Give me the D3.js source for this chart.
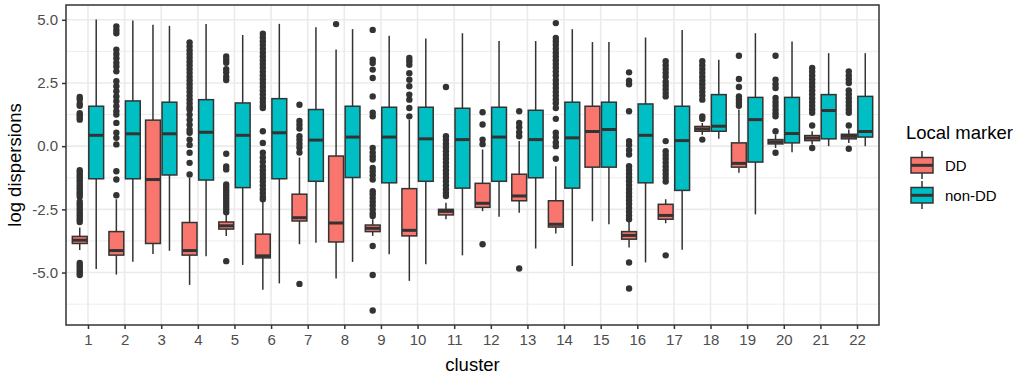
<!DOCTYPE html>
<html>
<head>
<meta charset="utf-8">
<script src="https://cdn.jsdelivr.net/npm/d3@7"></script>
<style>
  body { margin: 0; background: #fff; }
  svg { display: block; }
  text { font-family: "Liberation Sans", Arial, sans-serif; }
</style>
</head>
<body>
<svg id="chart" width="1021" height="379"></svg>
<script>
// ---- data ---------------------------------------------------------------
const clusters = ["1","2","3","4","5","6","7","8","9","10","11","12","13","14","15","16","17","18","19","20","21","22"];
const groups = ["DD", "non-DD"];
const groupColors = ["#F8766D", "#00BFC4"];

// DD: lower whisker, Q1, median, Q3, upper whisker per cluster
const ddLow = [-4.11,-5.08,-4.27,-5.49,-3.55,-5.68,-3.88,-5.24,-3.55,-5.33,-2.89,-2.57,-2.63,-3.46,-2.97,-4.01,-3.05,0.45,-1.05,-0.07,0.07,0.13];
const ddQ1  = [-3.85,-4.31,-3.85,-4.31,-3.28,-4.42,-2.96,-3.79,-3.38,-3.55,-2.72,-2.42,-2.16,-3.20,-0.83,-3.68,-2.89,0.59,-0.83,0.09,0.22,0.29];
const ddMed = [-3.72,-4.13,-1.32,-4.13,-3.15,-4.34,-2.83,-3.04,-3.25,-3.33,-2.58,-2.26,-1.97,-3.09,0.58,-3.53,-2.74,0.68,-0.68,0.17,0.32,0.39];
const ddQ3  = [-3.57,-3.38,1.03,-3.02,-3.00,-3.48,-1.90,-0.39,-3.12,-1.68,-2.50,-1.47,-1.11,-2.16,1.58,-3.38,-2.30,0.78,0.13,0.26,0.42,0.47];
const ddHigh= [-3.22,-2.10,4.80,-1.25,-2.69,-2.17,-0.45,3.82,-2.89,1.05,-2.24,-0.13,0.20,-0.79,4.12,-2.96,-2.10,0.92,1.45,0.46,0.59,0.66];

// non-DD: lower whisker, Q1, median, Q3, upper whisker per cluster
const ndLow = [-4.86,-4.57,-4.14,-4.36,-4.70,-5.43,-3.82,-4.58,-4.28,-4.67,-4.32,-2.79,-4.05,-4.74,-3.09,-4.60,-4.10,0.29,-2.70,-0.24,0.00,0.00];
const ndQ1  = [-1.29,-1.29,-1.14,-1.34,-1.64,-1.29,-1.39,-1.24,-1.45,-1.39,-1.66,-1.39,-1.25,-1.66,-0.83,-1.45,-1.75,0.59,-0.63,0.13,0.29,0.36];
const ndMed = [0.43,0.49,0.49,0.55,0.43,0.53,0.24,0.36,0.36,0.29,0.26,0.36,0.26,0.33,0.66,0.43,0.22,0.79,1.05,0.50,1.41,0.58];
const ndQ3  = [1.58,1.79,1.74,1.84,1.71,1.88,1.45,1.58,1.54,1.54,1.50,1.54,1.42,1.74,1.74,1.67,1.58,2.04,1.93,1.93,2.04,1.97];
const ndHigh= [5.01,4.97,4.76,4.83,4.40,4.84,4.71,4.63,4.37,4.26,4.47,4.16,4.16,4.63,4.12,4.30,4.60,3.42,4.47,4.14,3.68,3.68];

// outlying log dispersions of DD markers, one list per cluster
const ddOutliers = [
  [1.95,1.85,1.68,1.60,1.30,1.22,1.12,1.05,-0.95,-1.05,-1.15,-1.25,-1.35,-1.45,-1.55,-1.65,-1.72,-1.82,-1.90,-2.00,-2.20,-2.30,-2.40,-2.50,-2.60,-2.70,-2.80,-2.90,-3.00,-4.62,-4.72,-4.82,-4.92,-5.02,-5.10],
  [4.74,4.60,4.47,3.82,3.65,3.48,3.30,3.15,2.96,2.57,2.37,2.17,1.97,1.78,1.58,1.38,1.25,0.92,0.53,0.33,0.07,-0.99,-1.32,-1.94],
  [],
  [4.10,3.95,3.80,3.65,3.50,3.35,3.20,3.05,2.90,2.75,2.60,2.45,2.30,2.15,2.00,1.85,1.70,1.55,1.45,1.25,1.05,0.85,0.65,0.53,0.26,0.05,-0.26,-0.66,-1.12],
  [3.55,3.42,3.30,3.05,2.92,2.75,2.62,-0.30,-0.80,-0.92,-1.51,-1.62,-1.73,-1.84,-1.95,-2.06,-2.17,-2.28,-2.39,-2.50,-2.61,-4.55],
  [4.45,4.30,4.15,4.00,3.85,3.70,3.55,3.40,3.25,3.10,2.95,2.80,2.65,2.50,2.35,2.20,2.05,1.90,1.75,1.60,1.51,0.59,0.13,-0.26,-0.45,-0.62,-0.80,-0.95,-1.10,-1.25,-1.40,-1.55,-1.70,-1.85,-2.00,-2.10],
  [1.64,1.00,0.85,0.70,0.39,0.25,0.10,-0.05,-0.25,-5.45],
  [4.83],
  [4.60,3.42,3.29,3.03,2.70,1.97,1.32,1.18,-0.07,-0.25,-0.40,-0.53,-0.86,-1.00,-1.15,-1.32,-1.78,-1.90,-2.05,-2.20,-2.35,-2.50,-2.65,-2.76,-3.95,-5.10,-6.50],
  [3.49,3.36,3.22,2.89,2.63,2.37,2.04,1.84,1.51,1.18],
  [2.34,0.39,0.25,0.10,-0.05,-0.20,-0.35,-0.50,-0.65,-0.80,-0.95,-1.10,-1.25,-1.40,-1.55,-1.70,-1.85,-1.97],
  [1.34,0.86,0.26,0.08,-3.88],
  [1.38,0.92,0.75,0.55,0.39,-4.84],
  [4.87,4.28,4.14,4.00,3.85,3.70,3.55,3.40,3.25,3.10,2.95,2.80,2.62,2.46,2.30,2.15,2.00,1.85,1.70,1.51,1.08,0.53,0.35,0.15,0.00,-0.50],
  [],
  [2.92,2.59,2.45,1.38,0.20,0.05,-0.15,-0.33,-0.79,-0.94,-1.09,-1.24,-1.39,-1.54,-1.69,-1.84,-1.99,-2.14,-2.29,-2.44,-2.59,-2.74,-2.89,-4.60,-5.63],
  [3.36,3.20,3.05,2.90,2.75,2.55,2.40,2.25,2.10,1.97,0.20,-0.20,-0.35,-0.50,-0.65,-0.80,-0.95,-1.10,-1.25,-1.40,-4.32],
  [3.36,3.20,3.05,2.90,2.75,2.60,2.45,2.30,2.15,2.00,1.84,1.18,1.08,0.26],
  [3.58,2.66,2.34,1.97,1.85,1.72,1.60],
  [3.58,2.63,2.45,2.30,1.91,1.75,1.60,1.45,1.30,1.18,0.59,-0.26],
  [3.09,2.95,2.80,2.65,2.50,2.35,2.20,2.05,1.90,1.75,1.60,1.45,1.32,0.82,-0.07],
  [2.96,2.80,2.65,2.50,2.20,2.05,1.90,1.75,1.60,1.45,1.32,0.82,-0.10]
];
// non-DD markers have no outlying values
const ndOutliers = clusters.map(() => []);

const yTicks = [-5, -2.5, 0, 2.5, 5];
const yMinorTicks = [-6.25, -3.75, -1.25, 1.25, 3.75];

// ---- layout -------------------------------------------------------------
const panel = { left: 66, right: 879, top: 5, bottom: 325 };
const svg = d3.select("#chart");
svg.append("rect").attr("width", 1021).attr("height", 379).attr("fill", "#fff");

const x = d3.scalePoint().domain(clusters).range([panel.left, panel.right]).padding(0.6);
const step = x.step();

const stats = [
  { low: ddLow, q1: ddQ1, med: ddMed, q3: ddQ3, high: ddHigh, out: ddOutliers },
  { low: ndLow, q1: ndQ1, med: ndMed, q3: ndQ3, high: ndHigh, out: ndOutliers }
];

// flatten into one record per box
const boxes = [];
clusters.forEach((c, i) => {
  groups.forEach((g, gi) => {
    const s = stats[gi];
    boxes.push({ cluster: c, group: g, gi,
      low: s.low[i], q1: s.q1[i], med: s.med[i], q3: s.q3[i], high: s.high[i], out: s.out[i] });
  });
});

const allVals = boxes.flatMap(b => [b.low, b.high, ...b.out]);
const [vmin, vmax] = d3.extent(allVals);
const pad = (vmax - vmin) * 0.05;
const y = d3.scaleLinear().domain([vmin - pad, vmax + pad]).range([panel.bottom, panel.top]);

// dodge: two boxes per cluster
const dodge = d3.scaleBand().domain(groups).range([-0.45 * step, 0.45 * step]);
const boxW = dodge.bandwidth() * 0.9;
const cx = b => x(b.cluster) + dodge(b.group) + dodge.bandwidth() / 2;

// ---- grid ---------------------------------------------------------------
const grid = svg.append("g");
grid.selectAll("line.minor").data(yMinorTicks).join("line")
  .attr("x1", panel.left).attr("x2", panel.right)
  .attr("y1", d => y(d)).attr("y2", d => y(d))
  .attr("stroke", "#EBEBEB").attr("stroke-width", 0.9);
grid.selectAll("line.majy").data(yTicks).join("line")
  .attr("x1", panel.left).attr("x2", panel.right)
  .attr("y1", d => y(d)).attr("y2", d => y(d))
  .attr("stroke", "#EBEBEB").attr("stroke-width", 1.6);
grid.selectAll("line.majx").data(clusters).join("line")
  .attr("y1", panel.top).attr("y2", panel.bottom)
  .attr("x1", d => x(d)).attr("x2", d => x(d))
  .attr("stroke", "#EBEBEB").attr("stroke-width", 1.6);

// ---- boxes --------------------------------------------------------------
const ink = "#333333";
const g = svg.append("g");
const bx = g.selectAll("g.box").data(boxes).join("g");

bx.selectAll("circle").data(b => b.out.map(v => ({ v, b }))).join("circle")
  .attr("cx", d => cx(d.b)).attr("cy", d => y(d.v)).attr("r", 3.2)
  .attr("fill", ink);

bx.append("line")
  .attr("x1", cx).attr("x2", cx)
  .attr("y1", b => y(b.high)).attr("y2", b => y(b.q3))
  .attr("stroke", ink).attr("stroke-width", 1.5);
bx.append("line")
  .attr("x1", cx).attr("x2", cx)
  .attr("y1", b => y(b.q1)).attr("y2", b => y(b.low))
  .attr("stroke", ink).attr("stroke-width", 1.5);
bx.append("rect")
  .attr("x", b => cx(b) - boxW / 2).attr("width", boxW)
  .attr("y", b => y(b.q3)).attr("height", b => Math.max(0, y(b.q1) - y(b.q3)))
  .attr("fill", b => groupColors[b.gi])
  .attr("stroke", ink).attr("stroke-width", 1.5);
bx.append("line")
  .attr("x1", b => cx(b) - boxW / 2).attr("x2", b => cx(b) + boxW / 2)
  .attr("y1", b => y(b.med)).attr("y2", b => y(b.med))
  .attr("stroke", ink).attr("stroke-width", 3);

// ---- panel border -------------------------------------------------------
svg.append("rect")
  .attr("x", panel.left).attr("y", panel.top)
  .attr("width", panel.right - panel.left).attr("height", panel.bottom - panel.top)
  .attr("fill", "none").attr("stroke", ink).attr("stroke-width", 1.5);

// ---- axes ---------------------------------------------------------------
const xAxis = svg.append("g").attr("transform", `translate(0,${panel.bottom})`)
  .call(d3.axisBottom(x).tickSize(4).tickPadding(5));
const yAxis = svg.append("g").attr("transform", `translate(${panel.left},0)`)
  .call(d3.axisLeft(y).tickValues(yTicks).tickFormat(d => d.toFixed(1)).tickSize(4).tickPadding(4));
[xAxis, yAxis].forEach(a => {
  a.select(".domain").remove();
  a.selectAll(".tick line").attr("stroke", ink).attr("stroke-width", 1.5);
  a.selectAll(".tick text").attr("fill", "#4D4D4D").style("font-size", "15px")
    .style("font-family", "'Liberation Sans', Arial, sans-serif");
});

svg.append("text")
  .attr("x", (panel.left + panel.right) / 2).attr("y", 371)
  .attr("text-anchor", "middle").attr("fill", "#000")
  .style("font-size", "18.5px").text("cluster");
svg.append("text")
  .attr("transform", `translate(21,${(panel.top + panel.bottom) / 2}) rotate(-90)`)
  .attr("text-anchor", "middle").attr("fill", "#000")
  .style("font-size", "18.5px").text("log dispersions");

// ---- legend -------------------------------------------------------------
const legend = svg.append("g");
legend.append("text").attr("x", 906).attr("y", 139)
  .attr("fill", "#000").style("font-size", "18.5px").text("Local marker");
const keyTop = [151, 181];
groups.forEach((gname, i) => {
  const k = legend.append("g").attr("transform", `translate(911,${keyTop[i]})`);
  k.append("line").attr("x1", 11).attr("x2", 11).attr("y1", 0).attr("y2", 28)
    .attr("stroke", ink).attr("stroke-width", 1.5);
  k.append("rect").attr("x", 0).attr("y", 6.5).attr("width", 22).attr("height", 15.5)
    .attr("fill", groupColors[i]).attr("stroke", ink).attr("stroke-width", 1.5);
  k.append("line").attr("x1", 0).attr("x2", 22).attr("y1", 14.3).attr("y2", 14.3)
    .attr("stroke", ink).attr("stroke-width", 3);
  legend.append("text").attr("x", 945).attr("y", keyTop[i] + 20)
    .attr("fill", "#000").style("font-size", "15px").text(gname);
});
</script>
</body>
</html>
